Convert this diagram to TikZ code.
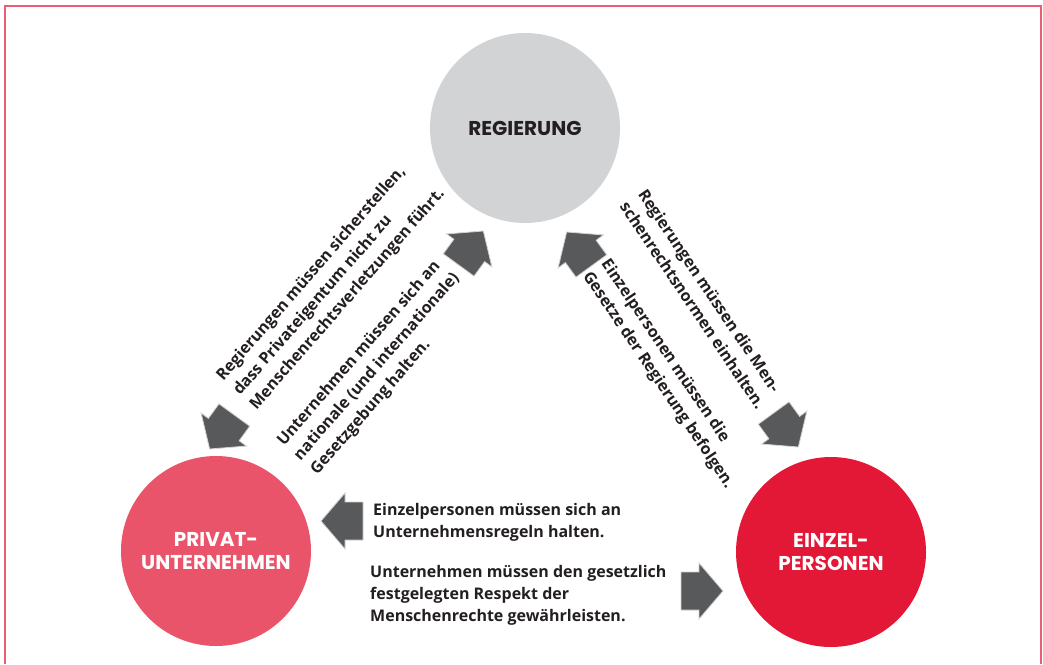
\documentclass[tikz,border=0pt]{standalone}
\usepackage{fontspec}
\setmainfont{Open Sans}
\newfontfamily\circfont{Poppins}
\definecolor{govgray}{HTML}{D1D3D4}
\definecolor{privpink}{HTML}{E9546B}
\definecolor{persred}{HTML}{E31837}
\definecolor{arrowgray}{HTML}{58595B}
\definecolor{framepink}{HTML}{EC5C73}
\definecolor{txtblack}{HTML}{231F20}
\tikzset{
  circ/.style={circle, minimum size=190pt, inner sep=0pt, align=center,
    font=\circfont\bfseries\fontsize{20}{23}\selectfont},
  body/.style={inner sep=0pt, align=left, text=txtblack,
    font=\bfseries\fontsize{16}{22}\selectfont},
  blockarrow/.pic={
    \fill[arrowgray, draw=gray!35, line width=0.8pt]
      (-21,-19) -- (-3,-19) -- (-3,-28) -- (21,0) -- (-3,28) -- (-3,19) -- (-21,19) -- cycle;
  }
}
\begin{document}
\begin{tikzpicture}[x=1pt,y=-1pt]
\useasboundingbox (0,0) rectangle (1043,664);
\fill[white] (0,0) rectangle (1043,664);
\draw[framepink, line width=1.6pt] (5,664) -- (5,6) -- (1041,6) -- (1041,664);

\node[circ, fill=govgray, text=txtblack] (gov) at (525,128) {REGIERUNG};
\node[circ, fill=privpink, text=white] (priv) at (216,551) {PRIVAT-\\UNTERNEHMEN};
\node[circ, fill=persred, text=white] (pers) at (831,552) {EINZEL-\\PERSONEN};

\pic[rotate=234] at (222,432) {blockarrow};
\pic[rotate=54] at (471,248) {blockarrow};
\pic[rotate=126] at (579,249) {blockarrow};
\pic[rotate=-54] at (786,430) {blockarrow};
\pic[rotate=180] at (342,521) {blockarrow};
\pic[rotate=0] at (702,591) {blockarrow};

\node[body, rotate=49] (t1) at (331,285) {Regierungen müssen sicherstellen,\\dass Privateigentum nicht zu\\Menschenrechtsverletzungen führt.};
\node[body, rotate=49] (t2) at (377,367) {Unternehmen müssen sich an\\nationale (und internationale)\\Gesetzgebung halten.};
\node[body, rotate=-56] (t3) at (702,299) {Regierungen müssen die Men-\\schenrechtsnormen einhalten.};
\node[body, rotate=-56] (t4) at (667,374) {Einzelpersonen müssen die\\Gesetze der Regierung befolgen.};
\node[body, anchor=west] (t5) at (373,522) {Einzelpersonen müssen sich an\\Unternehmensregeln halten.};
\node[body, anchor=west] (t6) at (370,595) {Unternehmen müssen den gesetzlich\\festgelegten Respekt der\\Menschenrechte gewährleisten.};
\end{tikzpicture}
\end{document}
